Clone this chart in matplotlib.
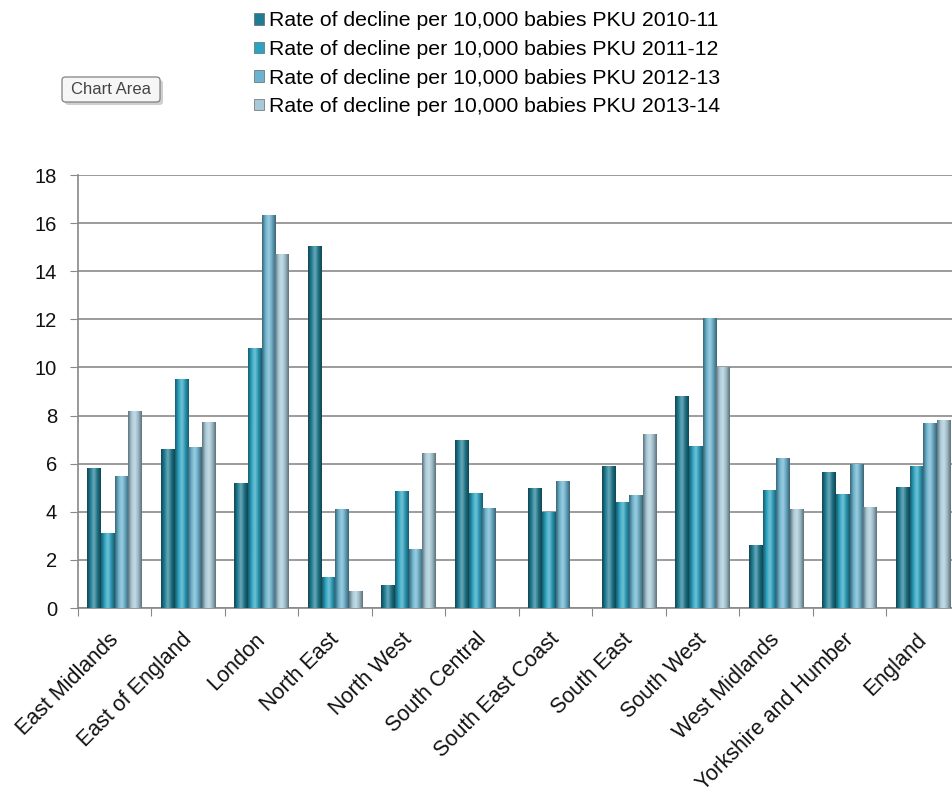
import numpy as np
import matplotlib
matplotlib.use("Agg")
import matplotlib.pyplot as plt
from matplotlib.patches import Patch, FancyBboxPatch
from matplotlib.colors import LinearSegmentedColormap, to_rgb

plt.rcParams['font.family'] = ['Liberation Sans', 'DejaVu Sans']

regions = ["East Midlands", "East of England", "London", "North East", "North West",
           "South Central", "South East Coast", "South East", "South West",
           "West Midlands", "Yorkshire and Humber", "England"]

pku_2010_11 = [5.8, 6.6, 5.2, 15.05, 0.95, 7.0, 5.0, 5.9, 8.8, 2.6, 5.65, 5.05]
pku_2011_12 = [3.1, 9.5, 10.8, 1.3, 4.85, 4.8, 4.0, 4.4, 6.75, 4.9, 4.75, 5.9]
pku_2012_13 = [5.5, 6.7, 16.35, 4.1, 2.45, 4.15, 5.3, 4.7, 12.05, 6.25, 6.0, 7.7]
pku_2013_14 = [8.2, 7.75, 14.7, 0.7, 6.45, 0, 0, 7.25, 10.0, 4.1, 4.2, 7.8]

series = [pku_2010_11, pku_2011_12, pku_2012_13, pku_2013_14]
labels = ["Rate of decline per 10,000 babies PKU 2010-11",
          "Rate of decline per 10,000 babies PKU 2011-12",
          "Rate of decline per 10,000 babies PKU 2012-13",
          "Rate of decline per 10,000 babies PKU 2013-14"]
colors = ["#1f7d93", "#2ba3c1", "#6bb3cf", "#a8cad8"]

W, H = 953, 791
fig = plt.figure(figsize=(W / 100, H / 100), dpi=100)
# plot area runs off the right edge, like the original screenshot
ax = fig.add_axes([78 / W, 1 - 608 / H, 882 / W, 433 / H])

x = np.arange(len(regions))
bw = 0.187


def cylinder_cmap(c):
    r = np.array(to_rgb(c))
    dark = r * 0.55
    light = np.clip(r + (1 - r) * 0.35, 0, 1)
    return LinearSegmentedColormap.from_list("cyl", [dark, r, light, r * 0.9, dark])


grad = np.linspace(0, 1, 64).reshape(1, -1)
for i, vals in enumerate(series):
    pos = x + (i - 1.5) * bw
    bars = ax.bar(pos, vals, width=bw, color=colors[i], edgecolor='none', zorder=3)
    cmap = cylinder_cmap(colors[i])
    for b in bars:
        h = b.get_height()
        if h <= 0:
            continue
        x0 = b.get_x()
        im = ax.imshow(grad, cmap=cmap, aspect='auto', zorder=3.1,
                       extent=[x0, x0 + b.get_width(), 0, h], interpolation='bicubic')
        im.set_clip_path(b)

ax.set_xlim(-0.5, len(regions) - 0.5)
ax.set_ylim(0, 18)
ax.set_yticks(np.arange(0, 19, 2))
ax.yaxis.grid(True, color='#8a8a8a', linewidth=1.2)
ax.set_axisbelow(True)

# ticks sit between the categories, names are written under each group
ax.set_xticks(np.arange(len(regions) + 1) - 0.5)
ax.set_xticklabels([])
for i, name in enumerate(regions):
    ax.annotate(name, xy=(x[i], 0), xycoords=('data', 'axes fraction'),
                xytext=(-7, -21), textcoords='offset pixels',
                rotation=45, ha='right', va='top', rotation_mode='anchor',
                fontsize=15.5, color='#111111', annotation_clip=False)
ax.tick_params(axis='x', which='major', length=6, color='#888888')
ax.tick_params(axis='y', length=6, color='#888888', labelsize=14.5,
               labelcolor='#111111', pad=9)

for s in ['top', 'right']:
    ax.spines[s].set_visible(False)
for s in ['left', 'bottom']:
    ax.spines[s].set_color('#888888')
    ax.spines[s].set_linewidth(1.2)

handles = [Patch(facecolor=c, edgecolor='#666666', linewidth=0.5) for c in colors]
fig.legend(handles, labels, loc='upper left', bbox_to_anchor=(246 / W, 1 - 3 / H),
           frameon=False, fontsize=15.3, handlelength=0.45, handleheight=0.45,
           handletextpad=0.25, labelspacing=0.45, borderaxespad=0)

# "Chart Area" tooltip left over in the screenshot
shadow = FancyBboxPatch((65 / W, 1 - 105 / H), 98 / W, 25 / H,
                        boxstyle='round,pad=0,rounding_size=0.004',
                        transform=fig.transFigure, facecolor='#cfcfcf',
                        edgecolor='none', zorder=1)
box = FancyBboxPatch((62 / W, 1 - 102 / H), 98 / W, 25 / H,
                     boxstyle='round,pad=0,rounding_size=0.004',
                     transform=fig.transFigure, facecolor='#f6f6f6',
                     edgecolor='#808080', linewidth=0.9, zorder=2)
fig.patches.extend([shadow, box])
fig.text(111 / W, 1 - 90 / H, "Chart Area", fontsize=12, color='#444444',
         ha='center', va='center', zorder=3)

fig.savefig("out.png", dpi=100)
